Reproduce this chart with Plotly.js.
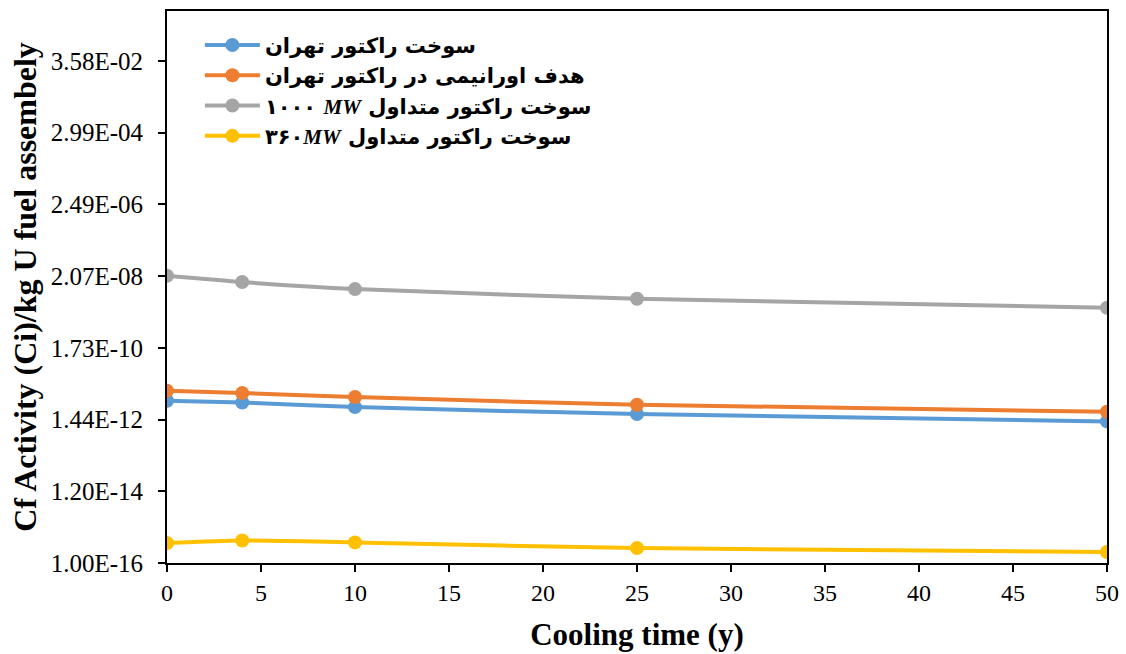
<!DOCTYPE html>
<html>
<head>
<meta charset="utf-8">
<script src="https://cdn.plot.ly/plotly-3.0.1.min.js"></script>
<style>
  html, body { margin: 0; padding: 0; background: #fff; }
  #chart { width: 1126px; height: 654px; }
</style>
</head>
<body>
<div id="chart"></div>
<script>
// Cooling time (years)
const coolingTime = [0, 4, 10, 25, 50];

// Cf activity (Ci)/kg U fuel assembly
const tehranFuel      = [5.05e-12, 4.5e-12, 3.3e-12, 2.08e-12, 1.27e-12];
const tehranUTarget   = [9.8e-12, 8.4e-12, 6.5e-12, 3.86e-12, 2.42e-12];
const conv1000MW      = [2.11e-8, 1.39e-8, 8.7e-9, 4.56e-9, 2.50e-9];
const conv360MW       = [3.8e-16, 4.5e-16, 3.95e-16, 2.7e-16, 2.08e-16];

// Legend names (Persian)
const mw = '<span style="font-family:Liberation Serif"><i>MW</i></span>';
const seriesNames = [
  '<b>سوخت راکتور تهران</b>',
  '<b>هدف اورانیمی در راکتور تهران</b>',
  '<b>۱۰۰۰ ' + mw + ' سوخت راکتور متداول</b>',
  '<b>۳۶۰' + mw + ' سوخت راکتور متداول</b>'
];
const seriesColors = ['#5B9BD5', '#ED7D31', '#A5A5A5', '#FFC000'];

// Y tick values and labels
const yTickVals = [1.00e-16, 1.20e-14, 1.44e-12, 1.728e-10, 2.0736e-8, 2.48832e-6, 2.985984e-4, 3.5831808e-2];
const yTickText = ['1.00E-16', '1.20E-14', '1.44E-12', '1.73E-10', '2.07E-08', '2.49E-06', '2.99E-04', '3.58E-02'];

const xTickVals = [0, 5, 10, 15, 20, 25, 30, 35, 40, 45, 50];

const seriesData = [tehranFuel, tehranUTarget, conv1000MW, conv360MW];

const traces = seriesData.map((vals, i) => ({
  x: coolingTime,
  y: vals,
  name: seriesNames[i],
  type: 'scatter',
  mode: 'lines+markers',
  line: { color: seriesColors[i], width: 4, shape: 'spline', smoothing: 0.6 },
  marker: { color: seriesColors[i], size: 14 }
}));

const serif = 'Liberation Serif, Times New Roman, serif';

const layout = {
  width: 1126,
  height: 654,
  margin: { l: 167, r: 19, t: 11, b: 91 },
  paper_bgcolor: '#ffffff',
  plot_bgcolor: '#ffffff',
  showlegend: true,
  legend: {
    x: 0.035, y: 0.975, xanchor: 'left', yanchor: 'top',
    bgcolor: 'rgba(0,0,0,0)',
    itemwidth: 55,
    font: { family: 'DejaVu Sans, Liberation Serif, serif', size: 21, color: '#000' },
    tracegroupgap: 0
  },
  xaxis: {
    range: [0, 50],
    tickvals: xTickVals,
    ticks: 'outside', ticklen: 7, tickwidth: 2, tickcolor: '#000',
    showline: true, linecolor: '#000', linewidth: 2, mirror: true,
    showgrid: false, zeroline: false,
    tickfont: { family: serif, size: 24, color: '#000' },
    title: { text: '<b>Cooling time (y)</b>', font: { family: serif, size: 31, color: '#000' }, standoff: 19 }
  },
  yaxis: {
    type: 'log',
    range: [-16, 0],
    tickvals: yTickVals,
    ticktext: yTickText,
    ticks: 'outside', ticklen: 7, tickwidth: 2, tickcolor: '#000',
    showline: true, linecolor: '#000', linewidth: 2, mirror: true,
    showgrid: false, zeroline: false,
    ticklabelstandoff: 10,
    tickfont: { family: serif, size: 25, color: '#000' },
    title: { text: '<b>Cf Activity (Ci)/kg U fuel assembely</b>', font: { family: serif, size: 32, color: '#000' }, standoff: 4 }
  }
};

Plotly.newPlot('chart', traces, layout, { displayModeBar: false, staticPlot: true });
</script>
</body>
</html>
